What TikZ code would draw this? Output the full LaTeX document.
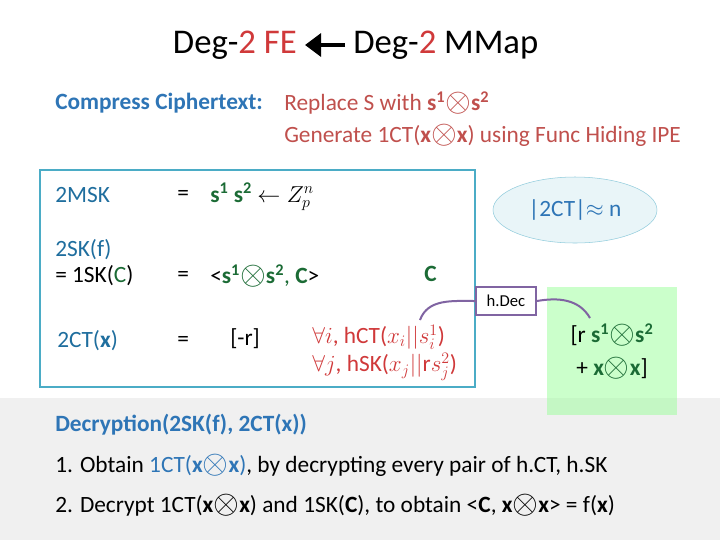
\documentclass[tikz,border=0pt]{standalone}
\usepackage{fontspec}
\setmainfont{Carlito}
\usetikzlibrary{arrows.meta,shapes.geometric}
\definecolor{tblue}{HTML}{1F6E9E}
\definecolor{hblue}{HTML}{2E75B6}
\definecolor{dgreen}{HTML}{1B6B35}
\definecolor{dred}{HTML}{D0393A}
\definecolor{rred}{HTML}{C0504D}
\definecolor{boxc}{HTML}{4BACC6}
\definecolor{purp}{HTML}{8064A2}
\newcommand{\ot}{\raisebox{-0.1ex}{\fontsize{24}{24}\selectfont$\otimes$}}
\begin{document}
\begin{tikzpicture}[x=0.75pt,y=-0.75pt,
  txt/.style={anchor=west,inner sep=0pt,font=\fontsize{17.5}{20}\selectfont},
  big/.style={anchor=center,inner sep=0pt,font=\fontsize{26}{30}\selectfont}]
\useasboundingbox (0,0) rectangle (720,540);
\fill[white] (0,0) rectangle (720,540);
\fill[black!6] (0,398) rectangle (720,540);
% title
\node[big,anchor=east] (t1) at (297,45) {Deg-\textcolor{dred}{2} \textcolor{dred}{FE}};
\node[big,anchor=west] (t2) at (353,45) {Deg-\textcolor{dred}{2} MMap};
\draw[line width=3pt,-{Triangle[length=12pt,width=17pt]}] (t2.west) ++(-8,0) coordinate (a2) -- ++(-40,0) coordinate (a1);
% compress
\node[txt,font=\fontsize{17.5}{20}\selectfont\bfseries,text=hblue] (cc) at (55,103) {Compress Ciphertext:};
\node[txt,text=rred] (r1) at (284,103) {Replace S with \textbf{s\textsuperscript{1}}\ot\textbf{s\textsuperscript{2}}};
\node[txt,text=rred] (r2) at (284,135) {Generate 1CT(\textbf{x}\ot\textbf{x}) using Func Hiding IPE};
% box
\draw[boxc,line width=2.2pt] (40,170) rectangle (475,387);
\node[txt,text=tblue] (m1) at (55,195) {2MSK};
\node[txt] (e1) at (177,195) {=};
\node[txt] (v1) at (210,197) {\textcolor{dgreen}{\textbf{s\textsuperscript{1} s\textsuperscript{2}}} $\leftarrow Z_p^n$};
\node[txt,text=tblue] (m2) at (55,250) {2SK(f)};
\node[txt] (m3) at (55,276) {= 1SK(\textcolor{dgreen}{C})};
\node[txt] (e2) at (177,276) {=};
\node[txt] (v2) at (210,276) {<\textcolor{dgreen}{\textbf{s\textsuperscript{1}}\ot\textbf{s\textsuperscript{2}}, \textbf{C}}>};
\node[txt,text=dgreen,font=\fontsize{17.5}{20}\selectfont\bfseries] (c) at (424,274) {C};
\node[txt,text=tblue] (m4) at (57,341) {2CT(\textbf{x})};
\node[txt] (e3) at (177,341) {=};
\node[txt] (v3) at (230,339) {[-r]};
\node[txt,text=dred] (h1) at (312,337) {$\forall i$, hCT($x_i||s_i^1$)};
\node[txt,text=dred] (h2) at (312,367) {$\forall j$, hSK($x_j||\mathrm{r}s_j^2$)};
% ellipse
\node[ellipse,draw=boxc!60,fill=boxc!12,minimum width=164*0.75pt,minimum height=66*0.75pt,
  font=\fontsize{17.5}{20}\selectfont,text=hblue] (el) at (575,210) {|2CT|$\approx$ n};
% green result
\fill[green!40!white,opacity=0.5] (547,287) rectangle (677,415);
\node[txt,anchor=center] (g1) at (612,335) {[r \textcolor{dgreen}{\textbf{s\textsuperscript{1}}\ot\textbf{s\textsuperscript{2}}}};
\node[txt,anchor=center] (g2) at (612,368) {+ \textcolor{dgreen}{\textbf{x}\ot\textbf{x}}]};
\coordinate (gt) at (590,318);
\coordinate (hs) at (420,320);
% hDec
\node[draw=purp,line width=1.5pt,fill=white,inner sep=3pt,minimum width=60*0.75pt,minimum height=28*0.75pt,
  font=\fontsize{12.5}{14}\selectfont] (hd) at (506,301) {h.Dec};
\draw[purp,line width=1.5pt] (hs) to[out=70,in=180] (hd.west);
\draw[purp,line width=1.5pt] (hd.east) to[out=10,in=120] (gt);
% decryption
\node[txt,font=\fontsize{17.5}{20}\selectfont\bfseries,text=hblue] (dd) at (55,425) {Decryption(2SK(f), 2CT(x))};
\node[txt] (d1) at (55,465) {1. Obtain \textcolor{hblue}{1CT(\textbf{x}\ot\textbf{x})}, by decrypting every pair of h.CT, h.SK};
\node[txt] (d2) at (55,505) {2. Decrypt 1CT(\textbf{x}\ot\textbf{x}) and 1SK(\textbf{C}), to obtain <\textbf{C}, \textbf{x}\ot\textbf{x}> = f(\textbf{x})};
\end{tikzpicture}
\end{document}
